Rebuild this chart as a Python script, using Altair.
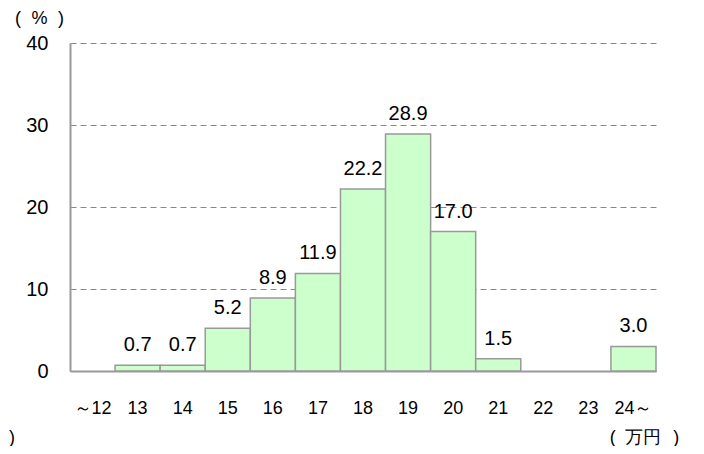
import altair as alt
import pandas as pd

categories = ["～12", "13", "14", "15", "16", "17", "18", "19", "20", "21", "22", "23", "24～"]
values = [None, 0.7, 0.7, 5.2, 8.9, 11.9, 22.2, 28.9, 17.0, 1.5, None, None, 3.0]
labels = ["", "0.7", "0.7", "5.2", "8.9", "11.9", "22.2", "28.9", "17.0", "1.5", "", "", "3.0"]
y_ticks = [0, 10, 20, 30, 40]

df = pd.DataFrame({"cat": categories, "value": values, "label": labels})

FONT = "Liberation Sans"

x_enc = alt.X("cat:N", sort=categories,
              scale=alt.Scale(paddingInner=0, paddingOuter=0),
              axis=alt.Axis(title="(\u2002万円\u2002\u2009)", titleFont=FONT, titleFontSize=18,
                            titleFontWeight="normal", titleColor="#000",
                            titleX=574, titleY=66, titleAlign="center", titleBaseline="middle",
                            labelAngle=0, labelFont=FONT, labelFontSize=18, labelColor="#000",
                            labelPadding=28, ticks=False, domainColor="#999", domainWidth=2,
                            grid=False))

bars = alt.Chart(df).mark_bar(color="#ccffcc", stroke="#999", strokeWidth=1.5).encode(
    x=x_enc,
    y=alt.Y("value:Q", scale=alt.Scale(domain=[0, 40]),
            axis=alt.Axis(values=y_ticks, title="(\u2002\u200a%\u2002\u200a)", titleFont=FONT,
                          titleFontSize=18, titleFontWeight="normal", titleColor="#000",
                          titleAngle=0, titleX=-31, titleY=-25, titleAlign="center",
                          titleBaseline="middle",
                          labelFont=FONT, labelFontSize=20, labelColor="#000", labelPadding=22,
                          ticks=False, domainColor="#999", domainWidth=2,
                          grid=True, gridColor="#888", gridDash=[6, 4], gridWidth=1)),
)

text = alt.Chart(df).transform_filter("datum.label != ''").mark_text(
    font=FONT, fontSize=20, baseline="bottom", dy=-10, color="#000"
).encode(
    x=alt.X("cat:N", sort=categories),
    y="value:Q",
    text="label:N",
)

stray = alt.Chart(pd.DataFrame({"t": [")"]})).mark_text(
    font=FONT, fontSize=18, color="#000", align="left", baseline="middle"
).encode(x=alt.value(-61), y=alt.value(395), text="t:N")

chart = alt.layer(bars, text, stray).properties(
    width=586, height=328,
    autosize=alt.AutoSizeParams(type="none"),
    padding={"left": 62, "top": 35, "right": 40, "bottom": 75},
).configure_view(stroke=None)

chart.save("out.html", embed_options={"renderer": "svg", "actions": False})
